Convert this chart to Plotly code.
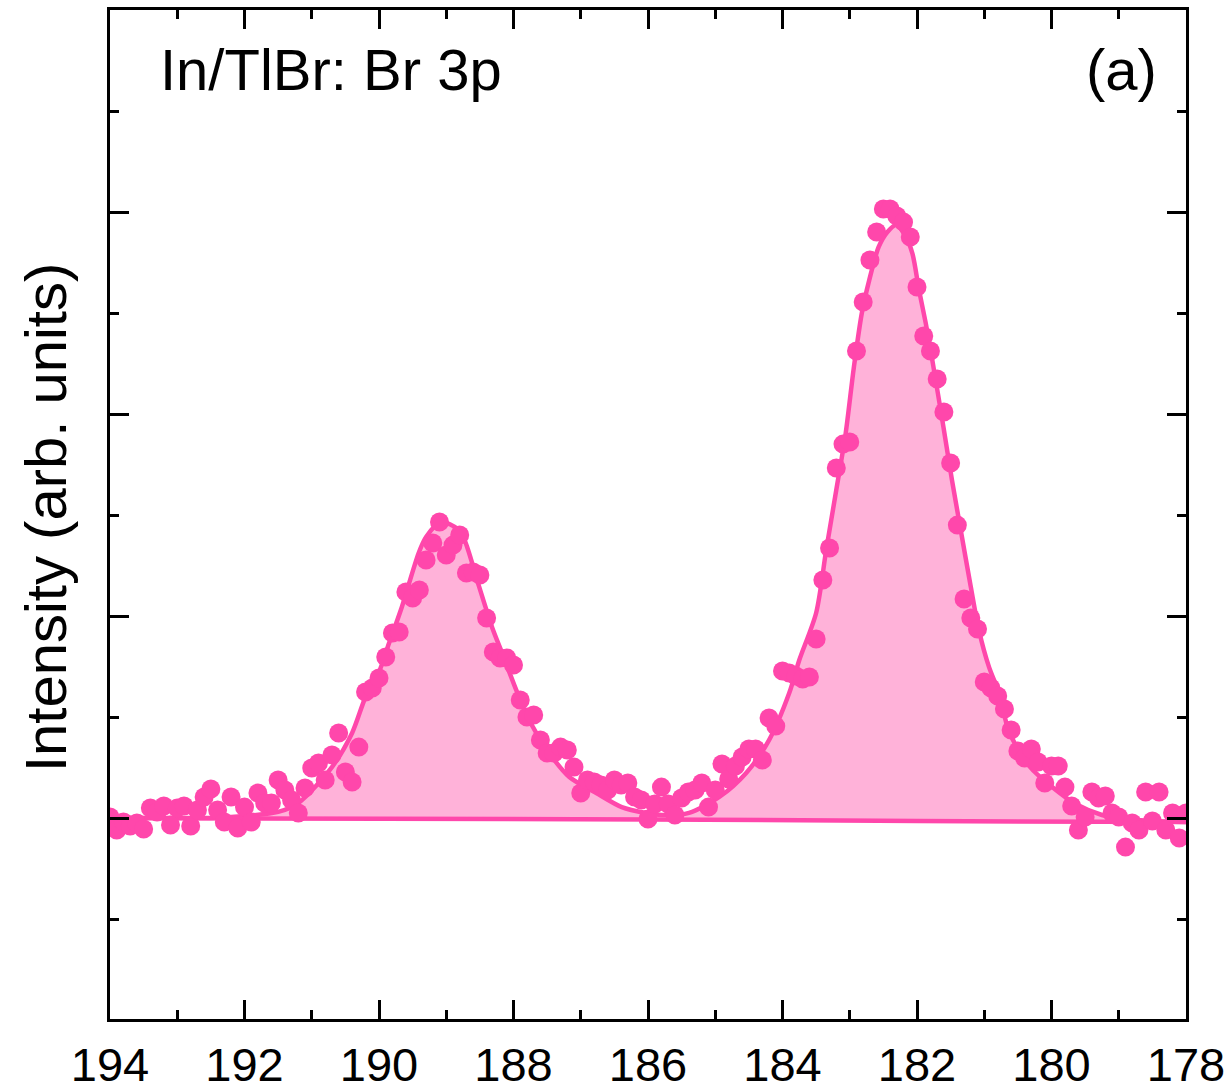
import numpy as np
import plotly.graph_objects as go

# Binding energy grid (eV), 0.1 eV step from 194 to 178
energy = np.round(np.arange(194.0, 177.95, -0.1), 1)

intensity = [
    0.005, -0.059, -0.020, -0.040, -0.025, -0.054, 0.050, 0.030, 0.059, -0.035,
    0.050, 0.059, -0.040, 0.040, 0.104, 0.144, 0.040, -0.020, 0.104, -0.050,
    0.054, -0.020, 0.124, 0.074, 0.074, 0.188, 0.139, 0.089, 0.025, 0.149,
    0.248, 0.272, 0.188, 0.312, 0.421, 0.228, 0.178, 0.351, 0.624, 0.644,
    0.693, 0.797, 0.916, 0.921, 1.119, 1.089, 1.129, 1.277, 1.361, 1.465,
    1.302, 1.351, 1.401, 1.213, 1.218, 1.203, 0.990, 0.822, 0.792, 0.792,
    0.757, 0.584, 0.500, 0.510, 0.386, 0.322, 0.322, 0.351, 0.337, 0.252,
    0.124, 0.188, 0.178, 0.163, 0.139, 0.188, 0.163, 0.173, 0.104, 0.089,
    -0.005, 0.069, 0.153, 0.069, 0.015, 0.099, 0.129, 0.139, 0.173, 0.054,
    0.139, 0.267, 0.193, 0.257, 0.302, 0.342, 0.342, 0.287, 0.495, 0.455,
    0.728, 0.718, 0.703, 0.688, 0.698, 0.886, 1.178, 1.337, 1.733, 1.851,
    1.861, 2.312, 2.554, 2.762, 2.901, 3.015, 3.015, 2.980, 2.950, 2.876,
    2.629, 2.386, 2.312, 2.173, 2.010, 1.757, 1.450, 1.084, 0.990, 0.936,
    0.673, 0.644, 0.604, 0.540, 0.436, 0.332, 0.297, 0.342, 0.277, 0.173,
    0.257, 0.257, 0.153, 0.059, -0.059, 0.005, 0.129, 0.099, 0.109, 0.025,
    0.005, -0.144, -0.025, -0.059, 0.129, -0.015, 0.129, -0.059, 0.025, -0.099,
    0.025,
]

# Fitted envelope
fit_energy = [194.0, 193.0, 192.5, 192.0, 191.5, 191.2, 190.7, 190.4, 190.2, 190.0,
              189.85, 189.66, 189.41, 189.3, 189.08, 188.81, 188.71, 188.51, 188.32, 188.17,
              187.96, 187.77, 187.47, 187.17, 186.77, 186.39, 186.03, 185.79, 185.39, 184.94,
              184.54, 184.20, 183.90, 183.75, 183.50, 183.35, 183.20, 183.06, 182.94, 182.82,
              182.71, 182.57, 182.44, 182.31, 182.18, 182.07, 181.97, 181.87, 181.78, 181.60,
              181.48, 181.35, 181.20, 181.08, 180.93, 180.78, 180.63, 180.33, 179.99, 179.64,
              179.25, 178.89, 178.5, 178.0]
fit_value = [0.000, 0.000, 0.000, 0.010, 0.030, 0.074, 0.252, 0.421, 0.599, 0.723,
             0.866, 1.045, 1.312, 1.391, 1.465, 1.426, 1.361, 1.144, 0.946, 0.817,
             0.634, 0.485, 0.322, 0.203, 0.124, 0.054, 0.025, 0.015, 0.025, 0.104,
             0.223, 0.386, 0.619, 0.782, 1.015, 1.327, 1.624, 1.906, 2.228, 2.500,
             2.663, 2.827, 2.901, 2.936, 2.886, 2.797, 2.614, 2.450, 2.282, 1.921,
             1.673, 1.426, 1.144, 0.931, 0.748, 0.619, 0.426, 0.257, 0.153, 0.069,
             0.015, -0.005, -0.015, -0.020]

# Background (Shirley-like)
bg_energy = [194.0, 190.0, 186.0, 182.0, 178.0]
bg_value = [0.000, -0.002, -0.007, -0.015, -0.020]

PINK = "#FF47AB"
FILL = "#FFB2D9"
FONT = "Arial, Liberation Sans, sans-serif"

fig = go.Figure()
# invisible background as fill anchor
fig.add_trace(go.Scatter(x=bg_energy, y=bg_value, mode="lines",
                         line=dict(width=0, color=PINK), showlegend=False, hoverinfo="skip"))
fig.add_trace(go.Scatter(x=fit_energy, y=fit_value, mode="lines", fill="tonexty",
                         fillcolor=FILL, line=dict(color=PINK, width=4.5, shape="spline", smoothing=0.8),
                         showlegend=False))
fig.add_trace(go.Scatter(x=bg_energy, y=bg_value, mode="lines",
                         line=dict(width=4.5, color=PINK), showlegend=False))
fig.add_trace(go.Scatter(x=energy, y=intensity, mode="markers",
                         marker=dict(size=19, color=PINK, line=dict(width=0)),
                         showlegend=False))

axis_common = dict(showline=True, linecolor="black", linewidth=3, mirror="ticks",
                   ticks="inside", ticklen=19, tickwidth=3, tickcolor="black",
                   showgrid=False, zeroline=False, automargin=False)

fig.update_xaxes(range=[194, 178], tick0=178, dtick=2,
                 tickfont=dict(family=FONT, size=47, color="black"),
                 ticklabelstandoff=3,
                 minor=dict(ticks="inside", ticklen=9, tickwidth=3, tickcolor="black", dtick=1),
                 **axis_common)
fig.update_yaxes(range=[-0.995, 4.0], tick0=0, dtick=1, showticklabels=False,
                 minor=dict(ticks="inside", ticklen=9, tickwidth=3, tickcolor="black", dtick=0.5),
                 **axis_common)

fig.add_annotation(text="Intensity (arb. units)", xref="paper", yref="paper",
                   x=-0.0604, y=0.4965, xanchor="center", yanchor="middle",
                   textangle=-90, showarrow=False,
                   font=dict(family=FONT, size=58, color="black"))
fig.add_annotation(text="In/TlBr: Br 3p", xref="paper", yref="paper",
                   x=0.0446, y=0.941, xanchor="left", yanchor="middle",
                   showarrow=False, font=dict(family=FONT, size=58, color="black"))
fig.add_annotation(text="(a)", xref="paper", yref="paper",
                   x=0.9745, y=0.941, xanchor="right", yanchor="middle",
                   showarrow=False, font=dict(family=FONT, size=58, color="black"))

fig.update_layout(width=1229, height=1090, plot_bgcolor="white", paper_bgcolor="white",
                  margin=dict(l=110, r=43, t=10, b=71), showlegend=False)

fig.write_html("out.html")
